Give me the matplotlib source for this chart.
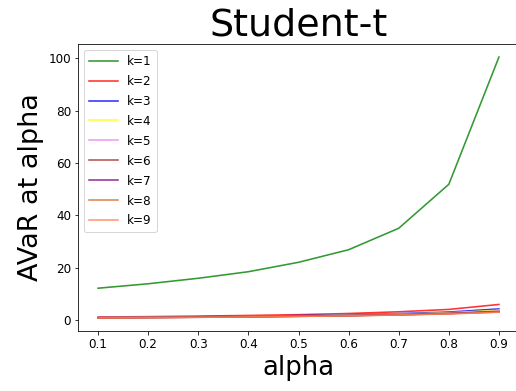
import numpy as np
import matplotlib
matplotlib.use("Agg")
import matplotlib.pyplot as plt

alphas = [0.1, 0.2, 0.3, 0.4, 0.5, 0.6, 0.7, 0.8, 0.9]

# AVaR of the Student-t distribution for k degrees of freedom
avar_k1 = [12.2, 13.9, 16.0, 18.5, 22.1, 26.9, 35.1, 51.9, 100.5]
avar_k2 = [1.2, 1.35, 1.55, 1.8, 2.1, 2.55, 3.2, 4.1, 6.0]
avar_k3 = [1.0, 1.15, 1.3, 1.5, 1.75, 2.05, 2.5, 3.1, 4.3]
avar_k4 = [0.95, 1.1, 1.25, 1.4, 1.6, 1.9, 2.3, 2.8, 3.8]
avar_k5 = [0.9, 1.05, 1.2, 1.35, 1.55, 1.8, 2.15, 2.65, 3.5]
avar_k6 = [0.88, 1.0, 1.15, 1.3, 1.5, 1.75, 2.1, 2.55, 3.35]
avar_k7 = [0.86, 0.98, 1.12, 1.28, 1.47, 1.7, 2.05, 2.5, 3.2]
avar_k8 = [0.85, 0.97, 1.1, 1.25, 1.45, 1.68, 2.0, 2.45, 3.1]
avar_k9 = [0.84, 0.96, 1.09, 1.24, 1.43, 1.66, 1.98, 2.4, 3.05]

series = [avar_k1, avar_k2, avar_k3, avar_k4, avar_k5, avar_k6, avar_k7, avar_k8, avar_k9]
labels = ["k=%d" % k for k in range(1, 10)]
colors = ["green", "red", "blue", "yellow", "violet", "brown", "purple", "chocolate", "coral"]

fig = plt.figure(figsize=(516 / 72, 391 / 72), dpi=72)
ax = fig.add_axes([78 / 516, 1 - 331 / 391, 441 / 516, 287 / 391])

for vals, lab, col in zip(series, labels, colors):
    ax.plot(alphas, vals, color=col, alpha=0.8, linewidth=1.6, label=lab)

ax.set_xticks(alphas)
ax.tick_params(labelsize=12)
ax.set_title("Student-t", fontsize=38)
ax.set_xlabel("alpha", fontsize=26)
ax.set_ylabel("AVaR at alpha", fontsize=27)
ax.legend(loc="upper left", fontsize=12, handlelength=2.4, labelspacing=0.58)

plt.savefig("out.png", dpi=72)
